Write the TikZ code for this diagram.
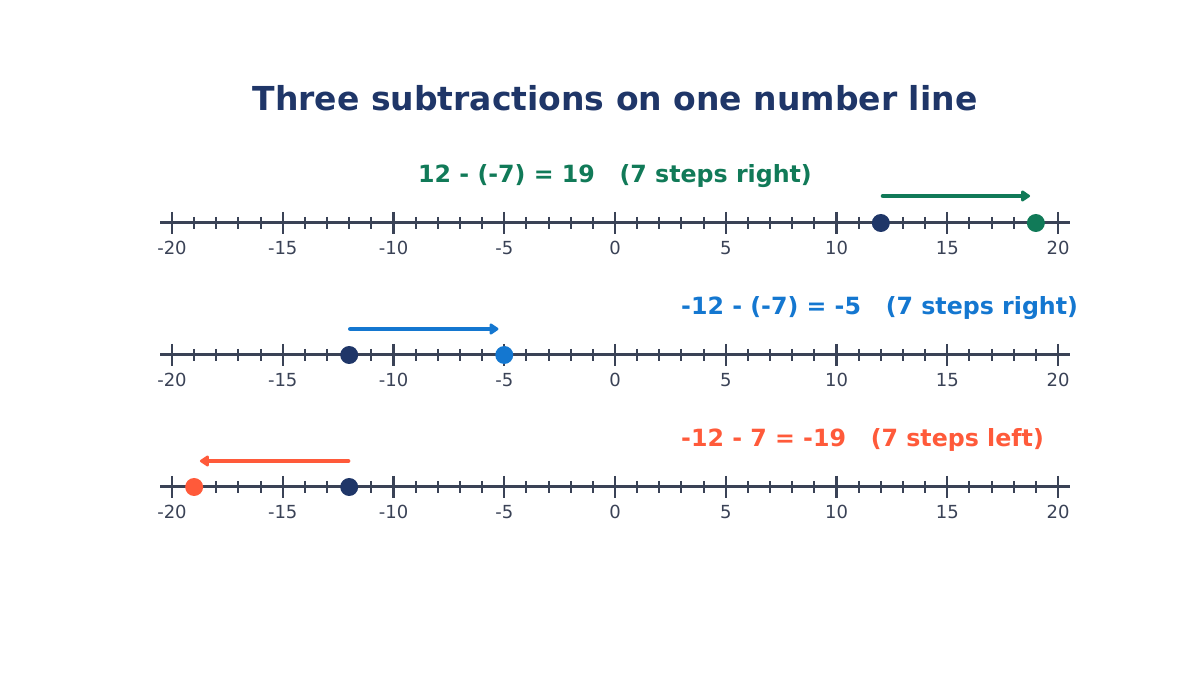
\documentclass[tikz,border=0pt]{standalone}
\usepackage{fontspec}
\setmainfont{DejaVu Sans}
\usetikzlibrary{arrows.meta}
\definecolor{navy}{HTML}{1F3668}
\definecolor{axisc}{HTML}{3A4256}
\definecolor{grn}{HTML}{117A58}
\definecolor{blu}{HTML}{1477D0}
\definecolor{red}{HTML}{FF5A3A}
\tikzset{
  axisline/.style={draw=axisc, line width=3pt},
  majortick/.style={draw=axisc, line width=2.4pt},
  minortick/.style={draw=axisc, line width=2pt},
  ticklab/.style={text=axisc, font=\fontsize{18}{21}\selectfont, inner sep=0pt, anchor=center},
  dot/.style={circle, fill=#1, minimum size=18pt, inner sep=0pt},
  movearrow/.style={draw=#1, line width=4.6pt, line cap=round, -{Triangle[length=10pt,width=12.5pt,round]}},
  eqlabel/.style={text=#1, font=\bfseries\fontsize{23.7}{28}\selectfont, inner sep=0pt},
  titlestyle/.style={text=navy, font=\bfseries\fontsize{33}{40}\selectfont, inner sep=0pt}
}
\newcommand{\numline}[2]{% #1 = name prefix, #2 = y (px from top)
  \pgfmathsetmacro{\yy}{675-#2}
  \coordinate (#1L) at (160,\yy);
  \coordinate (#1R) at (1070,\yy);
  \draw[axisline] (#1L) -- (#1R);
  \foreach \v in {-20,...,20}{
    \pgfmathtruncatemacro{\m}{mod(abs(\v),5)}
    \pgfmathsetmacro{\xx}{615+22.15*\v}
    \ifnum\m=0
      \draw[majortick] (\xx,\yy+11) -- (\xx,\yy-11);
      \node[ticklab] at (\xx,\yy-25) {\v};
    \else
      \draw[minortick] (\xx,\yy+6) -- (\xx,\yy-6);
    \fi
  }
}
\begin{document}
\begin{tikzpicture}[x=1pt,y=1pt]
\useasboundingbox (0,0) rectangle (1200,675);
\node[titlestyle] (title) at (615,{675-98}) {Three subtractions on one number line};

% line 1
\numline{a}{223}
\node[eqlabel=grn] (lab1) at (615,{675-176}) {12 - (-7) = 19\ \ \ (7 steps right)};
\coordinate (a1s) at ({615+22.15*12.1},{675-196});
\coordinate (a1e) at ({615+22.15*18.74},{675-196});
\draw[movearrow=grn] (a1s) -- (a1e);
\node[dot=navy] (a1from) at ({615+22.15*12},{675-223}) {};
\node[dot=grn] (a1to) at ({615+22.15*19},{675-223}) {};

% line 2
\numline{b}{355}
\node[eqlabel=blu, anchor=west] (lab2) at (681,{675-308}) {-12 - (-7) = -5\ \ \ (7 steps right)};
\coordinate (b1s) at ({615+22.15*(-11.95)},{675-329});
\coordinate (b1e) at ({615+22.15*(-5.26)},{675-329});
\draw[movearrow=blu] (b1s) -- (b1e);
\node[dot=navy] (b1from) at ({615+22.15*(-12)},{675-355}) {};
\node[dot=blu] (b1to) at ({615+22.15*(-5)},{675-355}) {};

% line 3
\numline{c}{487}
\node[eqlabel=red, anchor=west] (lab3) at (681,{675-440}) {-12 - 7 = -19\ \ \ (7 steps left)};
\coordinate (c1s) at ({615+22.15*(-12.05)},{675-461});
\coordinate (c1e) at ({615+22.15*(-18.74)},{675-461});
\draw[movearrow=red] (c1s) -- (c1e);
\node[dot=navy] (c1from) at ({615+22.15*(-12)},{675-487}) {};
\node[dot=red] (c1to) at ({615+22.15*(-19)},{675-487}) {};
\end{tikzpicture}
\end{document}
